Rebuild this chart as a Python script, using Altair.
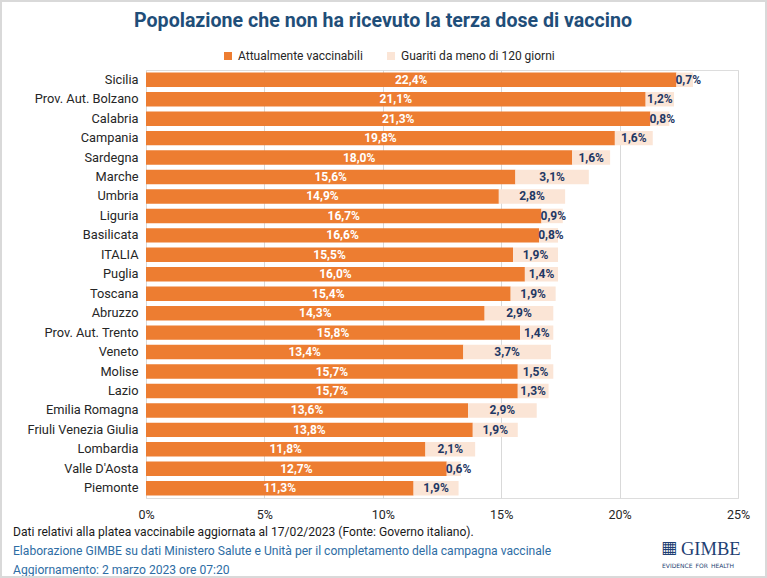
import altair as alt
import pandas as pd

# Regions, ordered as plotted (top to bottom)
regioni = [
    "Sicilia", "Prov. Aut. Bolzano", "Calabria", "Campania", "Sardegna", "Marche",
    "Umbria", "Liguria", "Basilicata", "ITALIA", "Puglia", "Toscana", "Abruzzo",
    "Prov. Aut. Trento", "Veneto", "Molise", "Lazio", "Emilia Romagna",
    "Friuli Venezia Giulia", "Lombardia", "Valle D'Aosta", "Piemonte",
]
# % of population currently eligible for the third dose
vaccinabili = [22.4, 21.1, 21.3, 19.8, 18.0, 15.6, 14.9, 16.7, 16.6, 15.5, 16.0,
               15.4, 14.3, 15.8, 13.4, 15.7, 15.7, 13.6, 13.8, 11.8, 12.7, 11.3]
# % of population recovered less than 120 days ago
guariti = [0.7, 1.2, 0.8, 1.6, 1.6, 3.1, 2.8, 0.9, 0.8, 1.9, 1.4,
           1.9, 2.9, 1.4, 3.7, 1.5, 1.3, 2.9, 1.9, 2.1, 0.6, 1.9]

serie = ["Attualmente vaccinabili", "Guariti da meno di 120 giorni"]
colori = ["#ED7D31", "#FBE5D6"]
tick_valori = [0, 5, 10, 15, 20, 25]

titolo = ["Popolazione che non ha ricevuto la terza dose di vaccino"]
nota = ["Dati relativi alla platea vaccinabile aggiornata al 17/02/2023 (Fonte: Governo italiano)."]
fonte = ["Elaborazione GIMBE su dati Ministero Salute e Unità per il completamento della campagna vaccinale"]
aggiornamento = ["Aggiornamento: 2 marzo 2023 ore 07:20"]
logo = ["GIMBE"]
logo_sotto = ["EVIDENCE\u2002FOR\u2002HEALTH"]

FONT = "Roboto"
FS = 12
W, H = 592, 428
LEFT, TOP = 146, 70

righe = []
for r, v, g in zip(regioni, vaccinabili, guariti):
    righe.append({"regione": r, "serie": serie[0], "valore": v, "ord": 0})
    righe.append({"regione": r, "serie": serie[1], "valore": g, "ord": 1})
df = pd.DataFrame(righe)

base = alt.Chart(df).transform_stack(
    stack="valore",
    groupby=["regione"],
    sort=[alt.SortField("ord")],
    as_=["x0", "x1"],
)

y_enc = alt.Y(
    "regione:N",
    sort=regioni,
    title=None,
    scale=alt.Scale(paddingInner=0.255, paddingOuter=0.13),
    axis=alt.Axis(labelFont=FONT, labelFontSize=12.8, labelColor="#262626",
                  labelPadding=8, ticks=False, domain=False, grid=False),
)

x_scale = alt.Scale(domain=[0, 25], nice=False)

barre = base.mark_bar().encode(
    x=alt.X("x0:Q", scale=x_scale, title=None,
            axis=alt.Axis(values=tick_valori, labelExpr="datum.value + '%'",
                          labelFont=FONT, labelFontSize=12.5, labelColor="#262626",
                          labelPadding=10, labelFlush=False, ticks=False, domain=False,
                          grid=True, gridColor="#D9D9D9", gridWidth=1)),
    x2="x1:Q",
    y=y_enc,
    color=alt.Color(
        "serie:N",
        scale=alt.Scale(domain=serie, range=colori),
        title=None,
        legend=alt.Legend(orient="none", direction="horizontal",
                          legendX=222 - LEFT, legendY=50 - TOP,
                          symbolType="square", symbolSize=64, symbolStrokeWidth=0,
                          labelFont=FONT, labelFontSize=FS, labelColor="#262626",
                          columnPadding=22, labelOffset=4, padding=0),
    ),
    order=alt.Order("ord:Q"),
)

etichette = base.transform_calculate(
    centro="(datum.x0 + datum.x1) / 2",
    pos="datum.ord == 0 ? datum.centro : max(datum.centro, datum.x0 + 0.5)",
    testo="replace(format(datum.valore, '.1f'), '.', ',') + '%'",
).mark_text(font=FONT, fontSize=FS, fontWeight="bold").encode(
    x=alt.X("pos:Q", scale=x_scale),
    y=y_enc,
    text="testo:N",
    color=alt.condition("datum.ord == 0", alt.value("white"), alt.value("#1F3864")),
)


def testo(righe_testo, x, y, **kw):
    return alt.Chart(pd.DataFrame({"t": righe_testo})).mark_text(font=FONT, **kw).encode(
        x=alt.value(x - LEFT), y=alt.value(y - TOP), text="t:N")


titolo_m = testo(titolo, 383, 21, fontSize=19.6, fontWeight="bold", color="#1F4E79", align="center")
nota_m = testo(nota, 13, 532, fontSize=12.1, color="#1A1A1A", align="left")
fonte_m = testo(fonte, 13, 551, fontSize=12.1, color="#2E6DA4", align="left")
agg_m = testo(aggiornamento, 13, 570, fontSize=12.1, color="#2E6DA4", align="left")
logo_m = alt.Chart(pd.DataFrame({"t": logo})).mark_text(
    font="Liberation Serif", fontSize=18.5, color="#1F3F73", align="left").encode(
    x=alt.value(681 - LEFT), y=alt.value(549 - TOP), text="t:N")
logo_icona = alt.Chart(pd.DataFrame({"t": ["▦"]})).mark_text(
    font="DejaVu Sans", fontSize=17, color="#1F3F73", align="left").encode(
    x=alt.value(661 - LEFT), y=alt.value(548 - TOP), text="t:N")
logo_s = alt.Chart(pd.DataFrame({"t": logo_sotto})).mark_text(
    font="DejaVu Sans", fontSize=6, color="#1F3F73", align="left").encode(
    x=alt.value(662 - LEFT), y=alt.value(566 - TOP), text="t:N")

cornice = alt.Chart(pd.DataFrame({"t": [0]})).mark_rect(
    fill="transparent", stroke="#D9D9D9", strokeWidth=2).encode(
    x=alt.value(1 - LEFT), x2=alt.value(766 - LEFT),
    y=alt.value(1 - TOP), y2=alt.value(577 - TOP))

chart = alt.layer(
    barre, etichette, titolo_m, nota_m, fonte_m, agg_m, logo_icona, logo_m, logo_s, cornice
).properties(
    width=W, height=H,
    padding={"left": LEFT, "top": TOP, "right": 767 - LEFT - W, "bottom": 578 - TOP - H},
    autosize=alt.AutoSizeParams(type="none"),
).configure_view(stroke=None).configure(background="white")

chart.save("out.html", embed_options={"renderer": "svg", "actions": False})
